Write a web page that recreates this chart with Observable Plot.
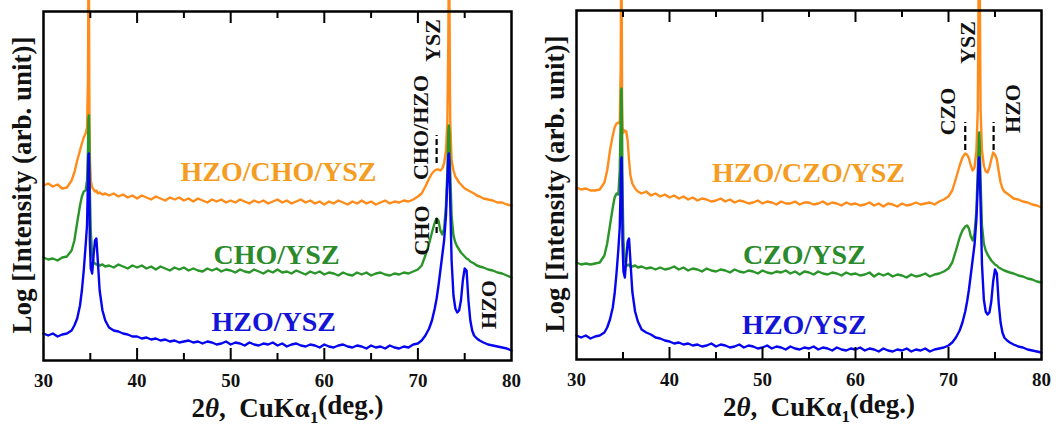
<!DOCTYPE html>
<html><head><meta charset="utf-8">
<script src="https://cdn.jsdelivr.net/npm/d3@7"></script>
<script src="https://cdn.jsdelivr.net/npm/@observablehq/plot@0.6"></script>
<style>
body{margin:0;background:#fff;}
#wrap{display:flex;width:1062px;height:431px;overflow:hidden;}
#wrap svg{display:block;flex:none;}
</style></head><body><div id="wrap"></div>
<script>
// 2θ grid (deg.), shared by all scans
const twoTheta = [
 30,30.5,31,31.5,32,32.5,33,33.3,33.6,33.9,34.1,34.3,34.5,34.65,34.75,34.8,34.85,34.9,34.95,35.05,35.2,35.35,35.5,35.65,35.8,36,36.3,36.6,
 37,37.5,38,38.5,39,39.5,40,40.5,41,41.5,42,42.5,43,43.5,44,44.5,45,45.5,46,46.5,47,47.5,48,48.5,49,49.5,50,50.5,51,51.5,52,52.5,53,53.5,54,54.5,55,55.5,56,56.5,57,57.5,58,58.5,59,59.5,60,60.5,61,61.5,62,62.5,63,63.5,64,64.5,65,65.5,66,66.5,67,67.5,68,68.5,69,69.5,
 70,70.4,70.8,71.2,71.5,71.8,72,72.2,72.4,72.6,72.8,73,73.15,73.25,73.3,73.35,73.45,73.6,73.8,74,74.2,74.4,74.6,74.8,75,75.2,75.4,75.6,75.8,76,76.3,76.6,
 77,77.5,78,78.5,79,79.5,80];

// Log intensity (arb. unit, offset traces) — left panel
const hzoChoYsz = [
 175,177,174,176,172,173,180,188,200,210,217,223,227,233,280,390,390,260,205,180,173,171,169,170,167,168,166,167,
 165,167,164,166,163,165,162,165,163,161,164,162,160,163,161,163,160,162,159,162,160,158,161,159,161,158,160,158,161,159,157,160,158,160,157,159,161,158,160,157,159,161,158,160,157,159,156,159,157,160,158,156,159,157,160,157,159,156,158,160,157,159,158,160,159,161,
 164,167,174,182,187,190,191,191,190,192,197,210,240,320,390,390,240,200,190,184,181,178,176,174,172,171,170,169,168,167,165,164,
 162,161,160,158,158,156,155];
const choYsz = [
 103,101,102,100,103,104,110,120,138,155,164,169,170,180,210,242,245,220,170,130,105,98,97,96,97,95,96,94,
 95,93,96,94,92,95,93,95,92,94,91,94,92,90,93,91,93,90,92,90,89,92,90,92,89,91,90,88,91,89,88,91,89,87,90,88,91,88,89,87,90,88,86,89,87,89,86,88,87,85,88,86,85,88,86,88,85,87,88,86,85,87,86,88,87,89,
 91,95,105,117,128,138,142,140,130,126,132,155,190,230,235,230,190,145,125,118,114,111,108,106,104,102,101,99,98,97,95,94,
 93,91,90,88,87,85,83];
const hzoYszL = [
 27,25,27,24,26,27,30,35,42,55,70,90,115,135,180,205,207,180,120,92,87,105,120,122,100,70,50,40,
 33,30,29,27,26,24,24,22,23,21,22,20,21,19,20,18,19,20,18,19,17,19,18,16,17,19,16,18,17,15,18,16,15,17,16,18,15,17,14,16,17,15,14,16,15,13,16,14,13,15,16,14,13,15,14,12,15,13,14,12,15,13,12,14,13,16,
 17,20,25,32,40,52,62,75,90,105,120,145,180,205,207,200,160,100,65,52,48,50,60,80,92,90,60,40,30,25,22,20,
 18,16,15,14,13,12,10];

// right panel
const hzoCzoYsz = [
 172,170,171,169,169,170,177,189,209,224,232,236,237,236,290,390,390,260,232,227,229,228,219,199,184,176,171,168,
 166,168,164,166,163,165,162,164,161,163,160,162,159,161,160,158,159,161,158,160,157,159,158,156,157,159,156,158,157,155,158,156,156,158,155,157,157,155,156,158,155,157,156,154,157,155,156,154,155,157,154,156,153,156,155,153,156,154,155,157,155,156,157,155,158,160,
 163,169,181,194,202,206,205,201,194,189,192,209,250,390,390,390,250,209,194,188,187,192,200,207,205,200,188,177,171,168,166,164,
 161,160,158,157,155,154,152];
const czoYsz = [
 97,95,96,95,96,97,104,116,134,152,162,166,165,189,239,269,271,229,169,119,99,95,94,95,93,93,94,92,
 93,91,92,90,92,90,91,93,90,92,89,91,90,88,91,89,88,90,89,87,90,88,87,89,88,86,89,87,86,88,87,89,86,88,85,88,87,85,88,86,85,87,86,84,87,85,86,84,85,87,83,86,84,86,83,85,84,82,85,83,84,86,83,85,86,88,
 91,97,109,122,129,133,134,131,123,119,126,149,190,219,227,219,179,134,116,109,105,102,99,97,95,94,92,91,90,89,88,87,
 86,84,83,81,80,78,77];
const hzoYszR = [
 24,22,24,21,23,24,27,32,40,52,66,86,110,132,175,200,202,175,115,88,82,100,118,121,98,68,48,38,
 30,27,25,22,21,19,18,16,17,15,16,14,15,13,14,16,13,15,14,12,13,15,12,14,13,11,12,14,11,13,12,10,13,11,10,12,11,13,10,12,11,9,12,10,9,11,10,12,9,11,10,8,11,9,8,10,9,11,8,10,9,11,8,10,11,12,
 14,17,22,29,37,48,58,70,85,100,115,140,175,200,202,195,155,95,60,48,45,47,58,78,90,86,56,37,27,22,19,17,
 15,13,12,10,9,8,7];

const xTickLabels = [30, 40, 50, 60, 70, 80];
const majorTicks = [40, 50, 60, 70];
const minorTicks = [35, 45, 55, 65, 75];
const xLabelText = "2θ,  CuKα1(deg.)";
const yLabelText = "Log [Intensity (arb. unit)]";

const C = {orange: "#ff8c1a", green: "#2a962a", blue: "#0505f0",
           orangeT: "#f49d22", greenT: "#2b8a2b", blueT: "#1414d8"};

const leftSeries = [
  {name: "HZO/CHO/YSZ", values: hzoChoYsz, color: C.orange},
  {name: "CHO/YSZ", values: choYsz, color: C.green},
  {name: "HZO/YSZ", values: hzoYszL, color: C.blue}];
const rightSeries = [
  {name: "HZO/CZO/YSZ", values: hzoCzoYsz, color: C.orange},
  {name: "CZO/YSZ", values: czoYsz, color: C.green},
  {name: "HZO/YSZ", values: hzoYszR, color: C.blue}];

const leftNames = [
  {text: "HZO/CHO/YSZ", x: 55.1, y: 188, color: C.orangeT},
  {text: "CHO/YSZ", x: 54.9, y: 105, color: C.greenT},
  {text: "HZO/YSZ", x: 54.6, y: 38, color: C.blueT}];
const rightNames = [
  {text: "HZO/CZO/YSZ", x: 54.95, y: 186, color: C.orangeT},
  {text: "CZO/YSZ", x: 54.5, y: 104, color: C.greenT},
  {text: "HZO/YSZ", x: 54.5, y: 34, color: C.blueT}];
const leftPeaks = [
  {text: "YSZ", x: 71.6, y: 320},
  {text: "CHO/HZO", x: 70.3, y: 233},
  {text: "CHO", x: 70.4, y: 130},
  {text: "HZO", x: 77.55, y: 56}];
const rightPeaks = [
  {text: "CZO", x: 69.9, y: 248},
  {text: "YSZ", x: 72.05, y: 317},
  {text: "HZO", x: 76.9, y: 251}];
const leftDashes = [{x: 72.0, y1: 197, y2: 225}, {x: 72.0, y1: 127, y2: 142}];
const rightDashes = [{x: 71.8, y1: 209, y2: 237}, {x: 74.85, y1: 209, y2: 237}];

const FONT = "Liberation Serif";

function panel(series, names, peaks, dashes, m) {
  const rows = series.flatMap(s => twoTheta.map((x, i) => ({x, y: s.values[i], name: s.name, color: s.color})));
  const svg = Plot.plot({
    width: 531, height: 431,
    marginLeft: m.left, marginRight: m.right, marginTop: m.top, marginBottom: m.bottom,
    style: {fontFamily: FONT, background: "white", overflow: "hidden"},
    x: {domain: [30, 80]},
    y: {domain: [0, 349], axis: null},
    marks: [
      ...series.map(s => Plot.line(rows.filter(r => r.name === s.name), {x: "x", y: "y", stroke: s.color, strokeWidth: 2.4, strokeLinejoin: "round"})),
      Plot.ruleX(dashes, {x: "x", y1: "y1", y2: "y2", stroke: "black", strokeWidth: 2.2, strokeDasharray: "6,3"}),
      Plot.frame({stroke: "black", strokeWidth: 2.5}),
      Plot.tickX(majorTicks, {x: d => d, insetTop: 349 - 12, stroke: "black", strokeWidth: 2}),
      Plot.tickX(majorTicks, {x: d => d, insetBottom: 349 - 12, stroke: "black", strokeWidth: 2}),
      Plot.tickX(minorTicks, {x: d => d, insetTop: 349 - 7, stroke: "black", strokeWidth: 2}),
      Plot.tickX(minorTicks, {x: d => d, insetBottom: 349 - 7, stroke: "black", strokeWidth: 2}),
      Plot.axisX({ticks: xTickLabels, tickSize: 0, tickPadding: 13, label: null, fontSize: 19, fontWeight: "bold", fill: "#111"}),
      Plot.text(names, {x: "x", y: "y", text: "text", fill: "color", fontSize: 28, fontWeight: "bold"}),
      Plot.text(peaks, {x: "x", y: "y", text: "text", fill: "#111", fontSize: 22, fontWeight: "bold", rotate: -90}),
      Plot.text([yLabelText], {frameAnchor: "left", textAnchor: "middle", lineAnchor: "middle", dx: -21, dy: -1, rotate: -90, fontSize: 27, fontWeight: "bold", fill: "#111"}),
      Plot.text([xLabelText], {frameAnchor: "bottom", textAnchor: "middle", lineAnchor: "middle", dx: 10, dy: 48, fontSize: 27, fontWeight: "bold", fill: "#111"})
    ]
  });
  d3.select(svg).selectAll("text").filter(function() { return this.textContent === xLabelText; }).each(function() {
    const t = d3.select(this);
    t.text(null).attr("xml:space", "preserve").style("white-space", "pre");
    t.append("tspan").text("2");
    t.append("tspan").attr("font-style", "italic").text("θ");
    t.append("tspan").text(",  CuKα");
    t.append("tspan").attr("font-size", "62%").attr("dy", "0.35em").text("1");
    t.append("tspan").attr("dy", "-0.35em").text("(deg.)");
  });
  return svg;
}

const wrap = document.getElementById("wrap");
wrap.appendChild(panel(leftSeries, leftNames, leftPeaks, leftDashes, {left: 43, right: 20, top: 11, bottom: 71}));
wrap.appendChild(panel(rightSeries, rightNames, rightPeaks, rightDashes, {left: 45, right: 21, top: 10, bottom: 72}));
</script></body></html>
